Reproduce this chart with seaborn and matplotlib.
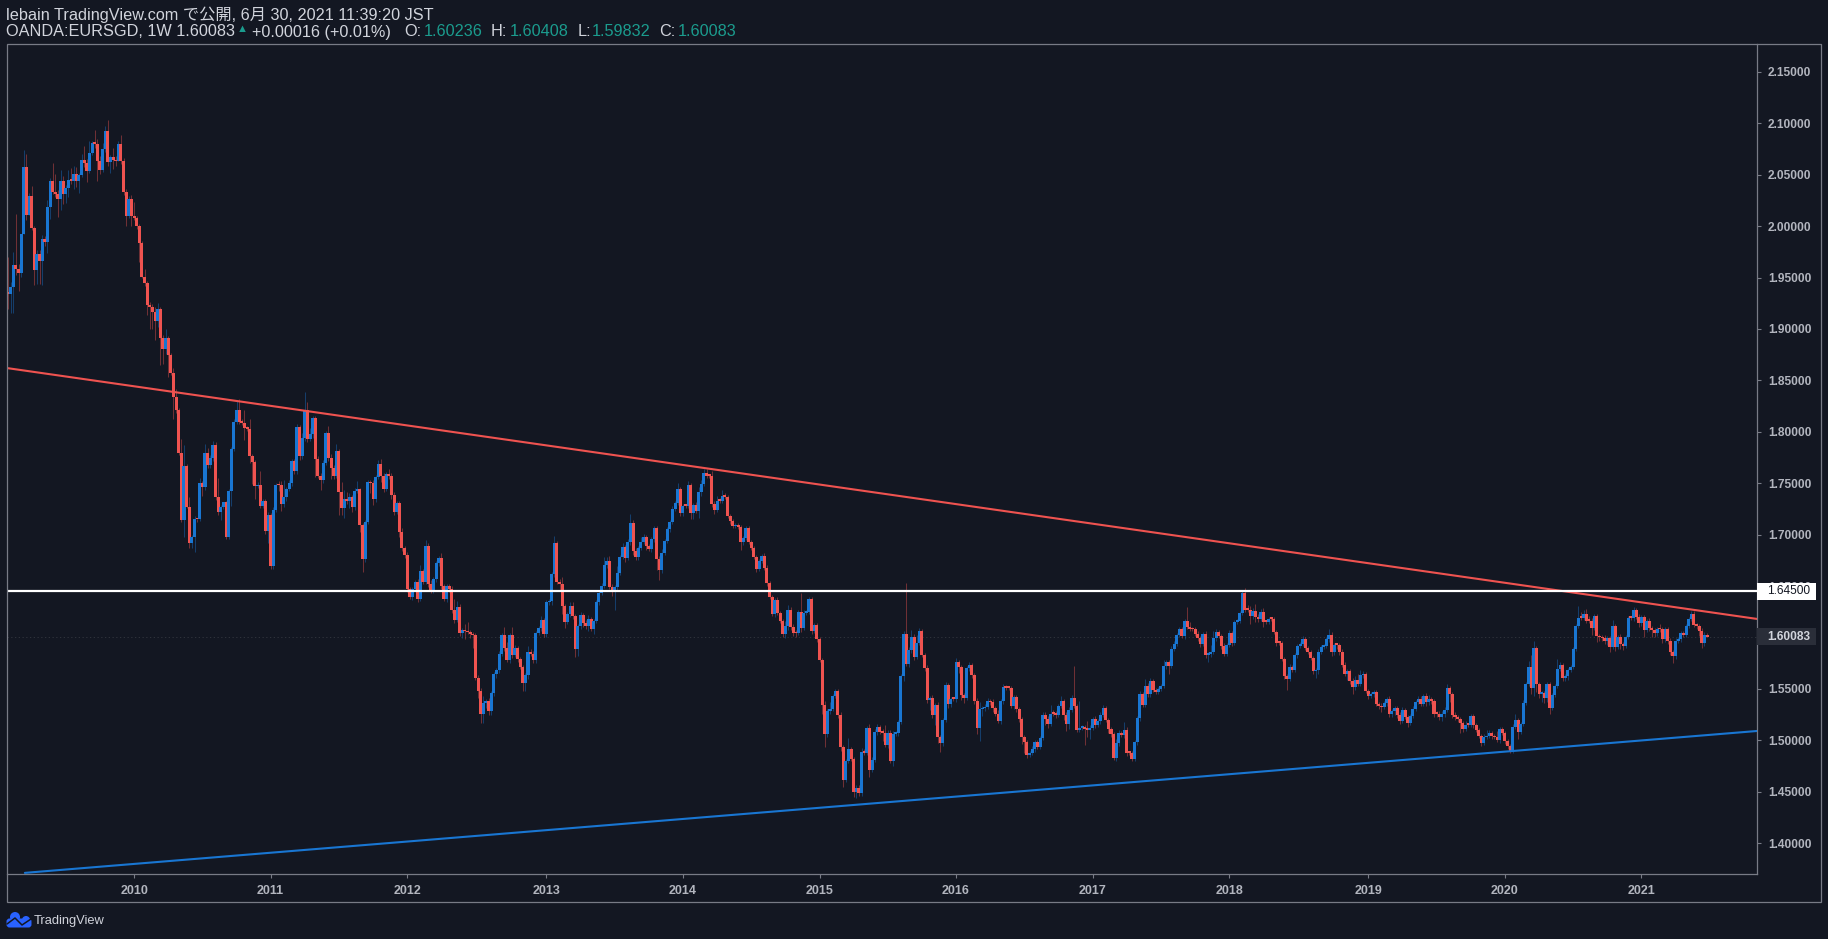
import numpy as np
import pandas as pd
import seaborn as sns
import matplotlib
matplotlib.use('Agg')
import matplotlib.pyplot as plt
from matplotlib.patches import Rectangle, Circle, FancyBboxPatch
from matplotlib.lines import Line2D
from matplotlib.transforms import IdentityTransform

# weekly closes, in thousandths
first_open = 1936
closes = [
    1934,1941,1962,1958,1954,1992,2058,2011,2029,1998,1957,1973,1966,1988,1985,2019,2044,2033,2031,2026,
    2044,2031,2037,2045,2044,2051,2044,2050,2064,2061,2054,2071,2081,2080,2063,2055,2075,2093,2062,2067,
    2064,2063,2080,2063,2033,2010,2026,2010,2008,2000,1984,1951,1945,1923,1921,1917,1908,1919,1891,1881,
    1891,1875,1857,1834,1821,1779,1714,1767,1727,1692,1698,1715,1715,1750,1746,1779,1768,1775,1787,1737,
    1722,1727,1732,1698,1742,1783,1810,1821,1810,1809,1804,1803,1776,1771,1747,1748,1728,1733,1704,1719,
    1669,1724,1748,1748,1730,1737,1744,1750,1772,1762,1805,1776,1794,1821,1793,1798,1813,1774,1757,1753,
    1770,1799,1775,1765,1757,1781,1741,1726,1735,1733,1737,1727,1742,1744,1709,1676,1712,1751,1750,1735,
    1756,1769,1757,1744,1759,1757,1739,1722,1731,1703,1687,1680,1647,1639,1647,1654,1637,1665,1654,1689,
    1652,1645,1657,1672,1677,1650,1637,1650,1647,1627,1617,1630,1604,1607,1606,1605,1603,1602,1561,1548,
    1526,1536,1538,1528,1546,1564,1568,1584,1602,1590,1578,1602,1583,1590,1579,1571,1556,1563,1586,1584,
    1578,1604,1609,1617,1603,1634,1635,1662,1692,1654,1652,1631,1615,1623,1631,1621,1589,1611,1622,1614,1611,
    1618,1608,1616,1634,1643,1650,1670,1674,1649,1645,1649,1663,1678,1688,1677,1693,1711,1684,1678,1687,
    1693,1698,1689,1686,1696,1706,1676,1666,1682,1694,1705,1712,1725,1731,1744,1721,1728,1728,1748,1721,
    1729,1723,1741,1749,1760,1757,1757,1730,1724,1733,1733,1738,1737,1718,1713,1708,1709,1707,1693,1697,
    1706,1693,1687,1678,1667,1674,1679,1668,1653,1639,1623,1636,1624,1616,1603,1611,1627,1610,1604,1604,
    1625,1609,1624,1625,1637,1606,1612,1598,1578,1534,1506,1528,1530,1543,1548,1525,1493,1461,1480,1491,1482,
    1450,1454,1449,1489,1488,1512,1471,1481,1508,1513,1508,1507,1495,1507,1480,1506,1507,1518,1562,1603,
    1574,1588,1600,1581,1595,1606,1583,1570,1539,1541,1525,1534,1503,1497,1520,1554,1535,1540,1540,1576,
    1571,1544,1541,1570,1573,1563,1538,1512,1530,1531,1532,1538,1537,1531,1526,1519,1538,1552,1551,1551,1533,
    1542,1530,1521,1503,1498,1486,1488,1491,1498,1493,1502,1525,1521,1516,1526,1526,1525,1533,1538,1525,
    1516,1529,1541,1533,1510,1512,1513,1511,1510,1512,1521,1515,1519,1525,1531,1520,1511,1506,1483,1497,
    1507,1505,1510,1488,1488,1482,1498,1522,1545,1534,1553,1545,1558,1549,1547,1550,1553,1572,1576,1572,1589,
    1594,1602,1608,1601,1616,1610,1608,1608,1603,1599,1594,1603,1583,1584,1586,1599,1605,1601,1592,1584,
    1593,1604,1595,1615,1616,1624,1643,1627,1627,1621,1626,1620,1618,1625,1615,1615,1618,1618,1605,1595,
    1595,1579,1562,1560,1571,1568,1583,1592,1594,1598,1590,1586,1580,1567,1568,1586,1591,1592,1598,1602,1586,
    1593,1593,1586,1573,1564,1567,1558,1552,1559,1555,1563,1564,1548,1543,1545,1547,1535,1533,1532,1536,1540,
    1526,1528,1531,1525,1519,1529,1523,1517,1524,1530,1537,1540,1535,1543,1537,1540,1538,1526,1526,1523,
    1526,1529,1551,1545,1525,1523,1521,1517,1511,1515,1515,1524,1515,1510,1504,1497,1503,1504,1507,1504,1503,
    1500,1511,1507,1499,1494,1490,1513,1520,1508,1516,1536,1555,1571,1551,1590,1555,1545,1546,1541,1555,
    1531,1544,1553,1569,1573,1561,1562,1568,1571,1589,1611,1619,1619,1623,1616,1616,1609,1621,1601,1600,1599,
    1597,1599,1591,1611,1591,1600,1594,1592,1600,1619,1619,1627,1620,1614,1620,1607,1616,1609,1607,1604,
    1608,1608,1598,1608,1597,1586,1582,1597,1598,1604,1602,1611,1618,1623,1612,1611,1606,1595,1602,1600.83,
]
upper_wicks = [
    34,5,13,50,5,0,16,12,3,10,2,4,4,3,2,6,3,17,18,4,
    11,5,3,10,12,8,7,2,6,14,4,12,2,13,5,5,6,4,10,2,
    9,4,3,9,3,3,3,4,14,2,2,2,7,2,3,3,4,6,2,3,
    9,2,2,5,8,2,14,20,2,10,2,3,0,5,2,9,5,2,4,3,
    18,2,0,1,2,2,2,10,11,2,12,2,9,2,2,3,14,2,2,3,
    2,3,2,4,4,16,2,3,2,2,3,2,5,18,8,6,2,2,2,3,
    3,2,7,3,3,7,2,10,8,6,3,2,3,8,1,2,2,2,2,3,
    2,4,5,3,2,5,3,2,2,2,3,2,3,2,2,2,3,5,2,6,
    3,4,2,2,2,5,2,2,2,3,10,5,3,2,6,9,2,2,2,2,
    3,7,2,3,2,2,2,3,2,8,6,2,8,3,2,2,2,2,6,3,
    3,2,2,4,2,2,2,2,7,2,3,7,2,2,3,3,2,2,3,2,3,
    4,2,2,2,2,3,8,4,5,3,2,6,2,4,2,3,9,3,3,2,
    5,3,2,2,2,2,2,3,4,2,2,2,3,2,6,2,2,2,4,2,
    2,3,5,4,4,4,2,5,3,5,3,5,2,2,2,2,2,2,2,2,
    2,2,2,2,2,2,2,3,2,2,2,2,3,2,2,5,5,3,3,3,
    2,18,3,2,2,2,2,2,2,2,4,2,7,2,2,2,2,2,2,11,2,
    2,2,2,3,2,2,4,3,3,3,2,3,8,3,3,3,2,2,2,3,
    50,3,7,3,7,3,2,2,3,2,3,2,3,2,2,3,2,2,2,4,
    2,2,2,2,3,2,2,3,7,2,3,3,2,3,2,3,2,3,2,2,2,
    2,2,2,2,2,2,2,3,2,2,2,2,2,3,8,3,2,2,5,2,
    2,3,3,31,2,26,2,2,8,3,2,3,2,2,3,2,2,2,2,4,
    3,2,8,3,2,2,2,2,3,2,7,3,3,2,2,2,2,6,2,2,3,
    3,2,2,2,2,14,5,2,2,3,2,2,3,2,7,7,3,2,2,3,
    2,3,2,2,2,2,2,5,5,4,3,7,3,3,4,2,2,2,2,2,
    2,2,2,2,3,2,2,2,2,3,2,2,2,2,2,3,2,2,2,6,3,
    2,2,2,3,3,2,2,3,3,5,5,3,2,2,2,2,2,2,3,2,2,
    3,2,2,2,2,3,2,2,2,3,2,3,3,2,3,4,2,2,2,2,
    2,3,4,2,2,2,2,2,2,4,2,2,2,2,2,2,3,6,3,2,2,
    6,2,2,2,2,2,3,6,2,2,3,2,6,12,7,2,2,2,2,2,
    2,2,2,10,3,2,2,2,2,2,2,12,6,4,5,5,3,2,2,2,2,
    3,2,2,6,2,2,3,2,2,2,2,3,2,3,2,2,2,3,2,2,
    2,5,2,2,2,2,2,2,2,2,2,2,2,3,3,2,2,3,3,2,
]
lower_wicks = [
    15,18,25,5,17,3,0,5,0,2,14,13,22,23,4,11,12,2,3,17,
    10,9,8,9,3,8,6,12,2,3,11,2,2,4,19,4,2,3,3,10,
    8,4,0,3,3,10,2,10,2,3,19,1,3,9,21,17,19,6,26,15,
    5,22,2,22,3,2,2,16,1,5,5,15,3,2,8,3,3,3,3,3,
    3,8,2,2,2,14,2,2,2,2,12,2,6,22,12,2,2,2,3,12,
    2,2,2,6,7,3,4,2,3,3,3,3,2,3,3,2,4,18,2,10,
    3,2,3,11,3,2,22,7,10,3,7,5,3,2,6,12,3,2,10,6,
    3,2,6,3,2,3,4,3,2,5,3,3,3,2,3,2,3,2,2,2,
    3,2,2,3,3,3,2,3,3,3,3,2,3,5,8,2,4,12,2,7,
    9,9,5,3,3,3,3,3,2,3,2,3,3,2,3,2,8,8,3,2,
    3,3,2,3,3,3,2,3,3,2,7,8,6,2,3,3,8,7,3,4,3,
    5,2,5,2,2,2,2,2,2,5,18,3,2,2,4,2,3,4,3,3,
    2,2,4,2,3,3,10,10,3,2,2,2,2,2,2,3,3,2,2,6,
    6,2,7,3,2,2,2,3,4,2,2,2,2,2,3,2,2,2,8,3,
    2,2,2,2,3,2,2,2,3,2,2,3,2,2,3,4,4,3,3,4,
    2,4,2,2,2,3,2,2,2,8,13,3,2,2,2,3,3,6,2,2,2,
    5,6,3,3,2,2,7,2,2,3,2,8,2,3,2,5,2,3,2,4,
    2,3,3,3,2,2,2,3,3,10,3,10,6,8,3,2,4,3,2,3,
    6,5,5,2,3,2,3,6,13,6,3,2,3,4,2,2,3,3,2,2,2,
    3,3,3,7,10,3,2,2,2,2,2,2,6,4,2,2,3,2,2,5,
    7,5,2,2,2,2,2,16,7,9,2,3,2,3,2,2,4,3,2,3,
    3,2,3,3,2,2,2,3,3,2,2,3,3,2,2,2,2,2,3,8,2,
    2,2,2,2,3,2,2,2,2,2,3,2,3,7,3,2,2,2,3,2,
    2,2,3,2,2,2,2,2,2,8,3,5,3,2,5,2,2,2,2,3,
    2,2,2,11,2,2,2,3,2,2,2,2,2,3,6,4,2,2,2,2,4,
    3,4,3,2,2,5,3,7,3,2,2,2,2,3,2,3,2,3,5,2,3,
    3,3,3,3,3,2,2,4,2,2,2,2,2,2,4,3,3,3,3,3,
    4,3,2,8,3,3,3,10,3,2,2,2,3,2,2,3,2,2,2,3,2,
    2,3,2,3,3,2,2,2,7,2,2,2,2,6,8,8,4,8,5,4,
    5,2,2,2,2,3,3,3,2,2,2,2,2,2,2,2,7,2,5,3,2,
    3,4,5,2,4,2,5,4,2,2,2,3,2,4,3,7,2,3,7,4,
    3,3,3,2,3,3,7,3,2,2,2,2,2,2,2,3,5,5,3,0,
]

price_ticks = [1.40, 1.45, 1.50, 1.55, 1.60, 1.65, 1.70, 1.75, 1.80, 1.85, 1.90, 1.95, 2.00, 2.05, 2.10, 2.15]
resistance_level = 1.645
last_price = 1.60083
# trendline ends at the two chart edges
red_line = [1.862, 1.618]
blue_line = [1.371, 1.509]

BG = '#131722'
RED = '#ef5350'
BLUE = '#1976d2'
BORDER = '#787b86'
TEXT = '#d1d4dc'
AXIS_TEXT = '#b2b5be'
TEAL = '#1b9c8e'

close_arr = np.array(closes) / 1000
open_arr = np.r_[first_open / 1000, close_arr[:-1]]
df = pd.DataFrame({
    'date': pd.date_range('2009-02-02', periods=len(closes), freq='7D'),
    'open': open_arr,
    'close': close_arr,
    'high': np.maximum(open_arr, close_arr) + np.array(upper_wicks) / 1000,
    'low': np.minimum(open_arr, close_arr) - np.array(lower_wicks) / 1000,
})
df['bar'] = np.arange(len(df))
df['up'] = df['close'] > df['open']

sns.set_theme(style='dark', rc={'axes.facecolor': BG, 'figure.facecolor': BG, 'savefig.facecolor': BG})
plt.rcParams['font.family'] = ['Liberation Sans', 'Noto Sans CJK JP', 'DejaVu Sans']

W, H = 1828, 939
fig = plt.figure(figsize=(W / 100, H / 100), dpi=100)
ax = fig.add_axes([7 / W, 1 - 874 / H, (1757 - 7) / W, (874 - 44) / H])

# candles
colors = df['up'].map({True: BLUE, False: RED}).tolist()
ax.vlines(df['bar'], df['low'], df['high'], colors=colors, linewidth=0.75, alpha=0.42, zorder=2)
heights = np.maximum((df['close'] - df['open']).abs(), 0.0016)
ax.bar(df['bar'], heights, bottom=df[['open', 'close']].min(axis=1), width=1.15,
       color=colors, linewidth=0, zorder=3)

x_min, x_max = -0.4, 666.0
edges = pd.DataFrame({'bar': [x_min, x_max], 'red': red_line, 'blue': blue_line})
sns.lineplot(data=edges, x='bar', y='red', color=RED, linewidth=1.5, ax=ax, zorder=4)
blue_start = 6.4
sns.lineplot(x=[blue_start, x_max], y=[blue_line[0], blue_line[1]], color=BLUE, linewidth=1.5, ax=ax, zorder=4)
ax.axhline(resistance_level, color='white', linewidth=1.6, zorder=5)
ax.axhline(last_price, color='white', linewidth=0.6, alpha=0.14, linestyle=(0, (1.5, 3)), zorder=1)

ax.set_xlim(x_min, x_max)
ax.set_ylim(1.3699, 2.1772)

year_first = df[df['date'].dt.year > 2009].groupby(df['date'].dt.year)['bar'].first()
ax.set_xticks(year_first.values)
ax.set_xticklabels(year_first.index.astype(str))
ax.set_yticks(price_ticks)
ax.set_yticklabels([f'{p:.5f}' for p in price_ticks])
ax.yaxis.tick_right()
ax.tick_params(axis='x', length=3, width=0.8, color=BORDER, labelcolor=AXIS_TEXT, labelsize=9, pad=5, bottom=True)
ax.tick_params(axis='y', length=3, width=0.8, color=BORDER, labelcolor=AXIS_TEXT, labelsize=8.6, pad=5, right=True)
for lab in ax.get_xticklabels() + ax.get_yticklabels():
    lab.set_fontweight('bold')
ax.set_xlabel('')
ax.set_ylabel('')
for side in ax.spines.values():
    side.set_color(BORDER)
    side.set_linewidth(0.9)
ax.spines['left'].set_visible(False)
ax.spines['top'].set_visible(False)

# price tags on the scale
tag_w = 59 / 1750
ax.add_patch(Rectangle((1, resistance_level - 0.0082), tag_w, 0.0164, transform=ax.get_yaxis_transform(),
                       facecolor='white', edgecolor='none', clip_on=False, zorder=6))
ax.add_patch(Rectangle((1, last_price - 0.0082), tag_w, 0.0164, transform=ax.get_yaxis_transform(),
                       facecolor='#2a2e39', edgecolor='none', clip_on=False, zorder=6))
tag_x = 1 + 10 / 1750
ax.text(tag_x, resistance_level, f'{resistance_level:.5f}', transform=ax.get_yaxis_transform(), color='#131722',
        fontsize=8.6, va='center', ha='left', zorder=7, clip_on=False)
ax.text(tag_x, last_price, f'{last_price:.5f}', transform=ax.get_yaxis_transform(), color=TEXT, fontweight='bold',
        fontsize=8.6, va='center', ha='left', zorder=7, clip_on=False)

# outer frame
fig.add_artist(Rectangle((6.5 / W, 1 - 902 / H), (1821 - 6.5) / W, (902 - 43.5) / H, transform=fig.transFigure,
                         fill=False, edgecolor=BORDER, linewidth=0.9))

# header text, placed by pixel
def header(x, y, s, color=TEXT, size=11.7):
    fig.text(x / W, 1 - y / H, s, color=color, fontsize=size, va='center', ha='left')

header(6, 15, 'lebain TradingView.com で公開, 6月 30, 2021 11:39:20 JST')
header(6, 32, 'OANDA:EURSGD, 1W 1.60083')
header(237, 29.5, '▲', color=TEAL, size=8)
header(252, 32, '+0.00016 (+0.01%)')
header(404, 32, 'O:')
header(424, 32, '1.60236', color=TEAL)
header(491, 32, 'H:')
header(510, 32, '1.60408', color=TEAL)
header(578, 32, 'L:')
header(592, 32, '1.59832', color=TEAL)
header(659, 32, 'C:')
header(678, 32, '1.60083', color=TEAL)

# logo
LOGO = '#2962ff'
idt = IdentityTransform()
fig.add_artist(FancyBboxPatch((8, H - 926), 22, 6, boxstyle='round,pad=1.5,rounding_size=3', transform=idt,
                              facecolor=LOGO, edgecolor='none'))
fig.add_artist(Circle((15, H - 917), 5, transform=idt, facecolor=LOGO, edgecolor='none'))
fig.add_artist(Circle((26, H - 920), 4, transform=idt, facecolor=LOGO, edgecolor='none'))
fig.add_artist(Line2D([7, 15, 22, 31], [H - 924, H - 918, H - 925, H - 919], transform=idt, color=BG, linewidth=1.1))
fig.text(34 / W, 1 - 921 / H, 'TradingView', color=TEXT, fontsize=9.3, va='center', ha='left')

fig.savefig('out.png', dpi=100, facecolor=BG)
